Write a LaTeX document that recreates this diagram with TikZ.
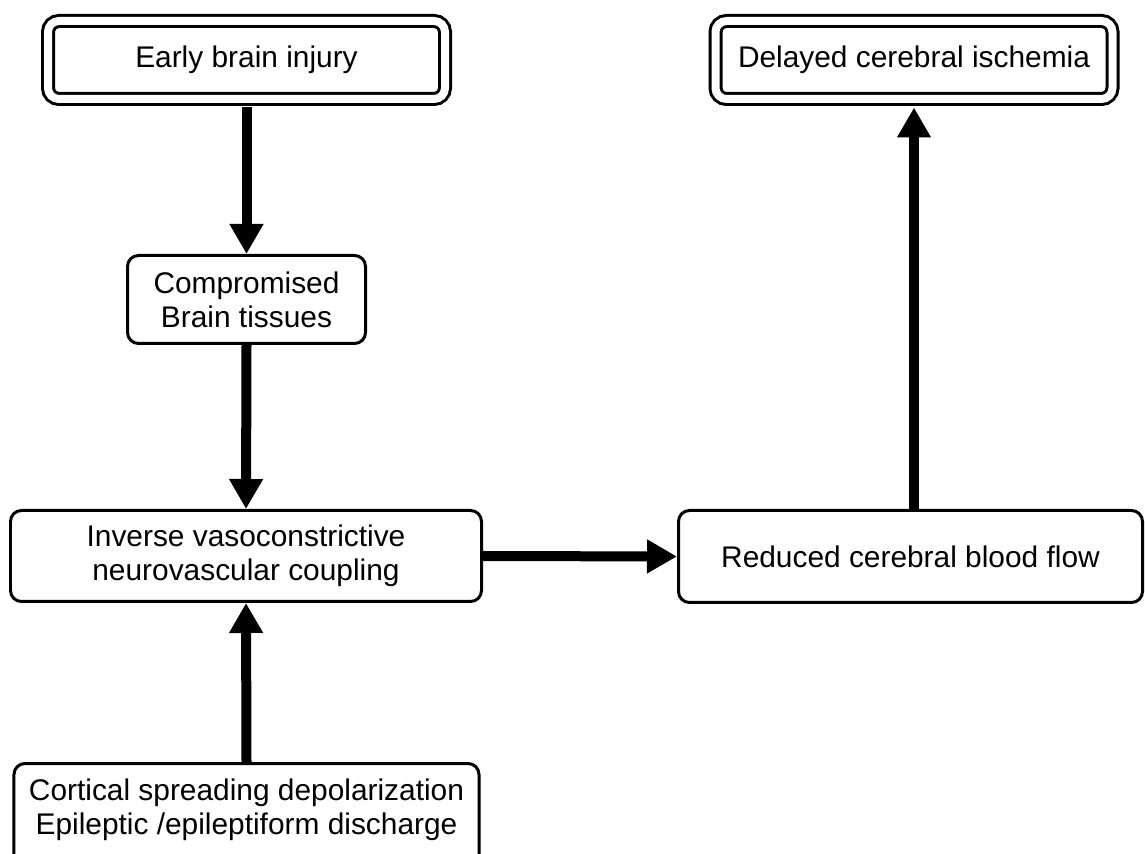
\documentclass[tikz,border=0pt]{standalone}
\usepackage{fontspec}
\setmainfont{Liberation Sans}
\usetikzlibrary{arrows.meta,positioning}

\begin{document}
\begin{tikzpicture}[>={Triangle[length=0.6cm,width=0.64cm]},
    box/.style={draw,
        line width=0.06cm,
        rounded corners=0.22cm,
        align=center,
        font=\fontsize{17pt}{19.5pt}\selectfont
    },
    dbox/.style={box, double=white, double distance=0.16cm},
    flow/.style={->, line width=0.2cm}]
    \useasboundingbox (0,0) rectangle (22.9,17.06);
    \clip (0,0) rectangle (22.9,17.06);
    % Top row
    \node [dbox,
        minimum width=7.94cm,
        minimum height=1.56cm
    ]  (EarlyInjury) at (4.93,15.86) {Early brain injury};
    \node [dbox,
        minimum width=7.94cm,
        minimum height=1.56cm
    ]  (Ischemia) at (18.28,15.86) {Delayed cerebral ischemia};
    % Middle
    \node [box,
        minimum width=4.76cm,
        minimum height=1.76cm
    ]  (Tissue) at (4.93,11.07) {Compromised\\Brain tissues};
    \node [box,
        minimum width=9.42cm,
        minimum height=1.82cm
    ]  (Coupling) at (4.92,5.94) {Inverse vasoconstrictive\\neurovascular coupling};
    \node [box,
        minimum width=9.28cm,
        minimum height=1.84cm
    ]  (BloodFlow) at (18.21,5.93) {Reduced cerebral blood flow};
    % Bottom (runs off the page)
    \node [box,
        minimum width=9.3cm,
        minimum height=2.4cm
    ]  (Depolarization) at (4.93,0.59) {\begin{tabular}{@{}c@{}}Cortical spreading depolarization\\Epileptic /epileptiform discharge\\[0.52cm]\end{tabular}};
    % Arrows
    \draw[flow, shorten <=0.14cm] (EarlyInjury.south) -- (Tissue.north);
    \draw[flow] (Tissue.south) -- (Coupling.north);
    \draw[flow] (Depolarization.north) -- (Coupling.south);
    \draw[flow] (Coupling.east) -- (BloodFlow.west);
    \draw[flow, shorten >=0.14cm] (Ischemia.south |- BloodFlow.north) -- (Ischemia.south);

\end{tikzpicture}
\end{document}
